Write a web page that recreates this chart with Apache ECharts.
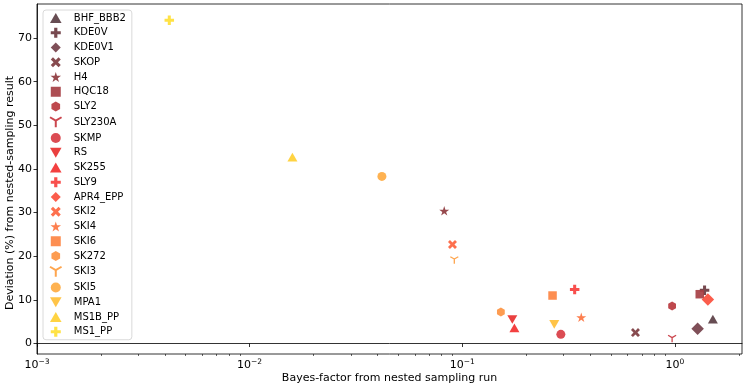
<!DOCTYPE html>
<html>
<head>
<meta charset="utf-8">
<script src="https://cdn.jsdelivr.net/npm/echarts@6/dist/echarts.min.js"></script>
<style>
  html, body { margin: 0; padding: 0; background: #fff; }
  #chart { width: 747px; height: 389px; }
</style>
</head>
<body>
<div id="chart"></div>
<script>
// models, in legend order
const models = ['BHF_BBB2', 'KDE0V', 'KDE0V1', 'SKOP', 'H4', 'HQC18', 'SLY2', 'SLY230A',
    'SKMP', 'RS', 'SK255', 'SLY9', 'APR4_EPP', 'SKI2', 'SKI4', 'SKI6', 'SK272', 'SKI3',
    'SKI5', 'MPA1', 'MS1B_PP', 'MS1_PP'];
// bayes factor from nested sampling run
const bayesFactor = [1.51, 1.38, 1.28, 0.653, 0.0823, 1.31, 0.971, 0.971,
    0.291, 0.172, 0.176, 0.338, 1.43, 0.090, 0.363, 0.266, 0.152, 0.0918,
    0.0419, 0.271, 0.0159, 0.00419];
// deviation (%) from nested-sampling result
const deviation = [5.6, 12.2, 3.4, 2.5, 30.4, 11.3, 8.6, 1.1,
    2.1, 5.5, 3.6, 12.4, 10.1, 22.7, 6.0, 11.0, 7.2, 19.1,
    38.3, 4.4, 42.7, 74.1];

const xMajorTicks = [0.001, 0.01, 0.1, 1];
const xMinorTicks = [0.002, 0.003, 0.004, 0.005, 0.006, 0.007, 0.008, 0.009,
    0.02, 0.03, 0.04, 0.05, 0.06, 0.07, 0.08, 0.09,
    0.2, 0.3, 0.4, 0.5, 0.6, 0.7, 0.8, 0.9, 2];
const yTicks = [0, 10, 20, 30, 40, 50, 60, 70];

const colors = ['#5a3e44', '#6b3a40', '#74404a', '#7d3c40', '#8e3a3e', '#a63f44', '#b8383e', '#c83c44',
    '#d83d44', '#e8302f', '#f23030', '#f7403e', '#fb4f3d', '#fd643f', '#fd7440', '#fd8442',
    '#fd9442', '#fea044', '#feab42', '#ffbf38', '#ffcf32', '#ffe035'];
const markers = ['triangle', 'plus', 'diamond', 'x', 'star', 'square', 'hexagon', 'tri_down',
    'circle', 'triangle_down', 'triangle', 'plus', 'diamond', 'x', 'star', 'square',
    'hexagon', 'tri_down', 'circle', 'triangle_down', 'triangle', 'plus'];

const shapes = {
    triangle: { symbol: 'path://M5,0L10,8.66L0,8.66Z', size: 10 },
    triangle_down: { symbol: 'path://M0,0L10,0L5,8.66Z', size: 10 },
    plus: { symbol: 'path://M3.4,0H6.6V3.4H10V6.6H6.6V10H3.4V6.6H0V3.4H3.4Z', size: 9.5 },
    x: { symbol: 'path://M0,2.2L2.2,0L5,2.8L7.8,0L10,2.2L7.2,5L10,7.8L7.8,10L5,7.2L2.2,10L0,7.8L2.8,5Z', size: 9 },
    star: { symbol: 'path://M5,0L6.123,3.455L9.755,3.455L6.817,5.59L7.939,9.045L5,6.91L2.061,9.045L3.183,5.59L0.245,3.455L3.877,3.455Z', size: 10 },
    square: { symbol: 'path://M0,0H10V10H0Z', size: 8.5 },
    hexagon: { symbol: 'path://M5,0L9.33,2.5L9.33,7.5L5,10L0.67,7.5L0.67,2.5Z', size: 9 },
    tri_down: { symbol: 'path://M5,5L5,10M5,5L0.67,2.5M5,5L9.33,2.5', size: 8, stroke: true },
    circle: { symbol: 'circle', size: 9 },
    diamond: { symbol: 'path://M5,0L10,5L5,10L0,5Z', size: 12.5 }
};

const chart = echarts.init(document.getElementById('chart'), null, { renderer: 'canvas' });

const series = models.map((name, i) => {
    const shp = shapes[markers[i]];
    return {
        name: name,
        type: 'scatter',
        xAxisIndex: 0,
        symbol: shp.symbol,
        symbolSize: shp.size,
        symbolKeepAspect: true,
        itemStyle: shp.stroke
            ? { color: 'rgba(0,0,0,0)', borderColor: colors[i], borderWidth: 1.3, opacity: 0.95 }
            : { color: colors[i], opacity: 0.92 },
        emphasis: { disabled: true },
        data: [[bayesFactor[i], deviation[i]]]
    };
});

const xLabel = v => {
    const e = Math.round(Math.log10(v));
    return '{b|10}{s|' + (e < 0 ? '\u2212' + (-e) : e) + '}';
};

chart.setOption({
    animation: false,
    textStyle: { fontFamily: 'DejaVu Sans' },
    grid: {
        left: 37, right: 5, top: 4, bottom: 35,
        outerBoundsMode: 'none',
        containLabel: false,
        show: true, borderColor: '#000', borderWidth: 0.8
    },
    legend: {
        orient: 'vertical',
        left: 43, top: 10,
        padding: [3, 6, 3, 6],
        itemWidth: 26, itemHeight: 10, itemGap: 4.75,
        symbolKeepAspect: true,
        borderColor: '#d0d0d0', borderWidth: 0.8, borderRadius: 3,
        backgroundColor: 'rgba(255,255,255,0.8)',
        textStyle: { fontSize: 10, lineHeight: 10, color: '#000', padding: [0, 0, 0, 0] },
        data: models.map(name => ({ name: name }))
    },
    xAxis: [{
        type: 'log',
        min: 0.001, max: 2.07,
        name: 'Bayes-factor from nested sampling run',
        nameLocation: 'middle', nameGap: 19, nameMoveOverlap: false,
        nameTextStyle: { fontSize: 11, color: '#000' },
        axisLine: { show: true, lineStyle: { color: '#000', width: 0.8 } },
        axisTick: { show: true, length: 3.5, customValues: xMajorTicks, lineStyle: { color: '#000', width: 0.8 } },
        axisLabel: {
            customValues: xMajorTicks, margin: 5, formatter: xLabel, color: '#000',
            rich: {
                b: { fontSize: 11, color: '#000', verticalAlign: 'bottom', lineHeight: 12 },
                s: { fontSize: 7.5, color: '#000', verticalAlign: 'bottom', lineHeight: 12, padding: [0, 0, 5, 0] }
            }
        },
        splitLine: { show: false }
    }, {
        type: 'log',
        min: 0.001, max: 2.07,
        position: 'bottom',
        axisLine: { show: false },
        axisTick: { show: true, length: 2, customValues: xMinorTicks, lineStyle: { color: '#000', width: 0.6 } },
        axisLabel: { show: false },
        splitLine: { show: false }
    }],
    yAxis: {
        type: 'value',
        min: -2.4, max: 77.8,
        name: 'Deviation (%) from nested-sampling result',
        nameLocation: 'middle', nameGap: 21, nameMoveOverlap: false,
        nameTextStyle: { fontSize: 11, color: '#000', padding: [0, 28, 0, 0] },
        axisLine: { show: true, lineStyle: { color: '#000', width: 0.8 } },
        axisTick: { show: true, length: 3.5, customValues: yTicks, lineStyle: { color: '#000', width: 0.8 } },
        axisLabel: { customValues: yTicks, margin: 5, fontSize: 11, color: '#000' },
        splitLine: { show: false }
    },
    series: series
});
</script>
</body>
</html>
